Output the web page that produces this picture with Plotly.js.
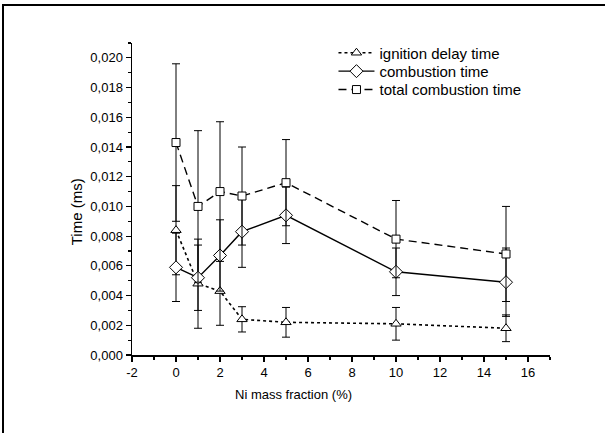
<!DOCTYPE html>
<html>
<head>
<meta charset="utf-8">
<script src="https://cdn.plot.ly/plotly-3.0.1.min.js"></script>
<style>
  html, body { margin: 0; padding: 0; background: #fff; }
  #wrap { position: relative; width: 605px; height: 433px; }
  #chart { position: absolute; left: 0; top: 0; width: 605px; height: 433px; }
  .frameTop { position: absolute; left: 2px; top: 4px; width: 603px; height: 2px; background: #000; z-index: 5; }
  .frameLeft { position: absolute; left: 2px; top: 4px; width: 2px; height: 429px; background: #000; z-index: 5; }
</style>
</head>
<body>
<div id="wrap">
  <div id="chart"></div>
  <div class="frameTop"></div>
  <div class="frameLeft"></div>
</div>
<script>
// Ni mass fraction (%)
const niFraction = [0, 1, 2, 3, 5, 10, 15];

// ignition delay time (ms) and its error
const ignitionDelay = [0.0084, 0.0048, 0.0043, 0.0024, 0.0022, 0.0021, 0.0018];
const ignitionDelayErr = [0.0030, 0.0030, 0.0023, 0.00085, 0.0010, 0.0011, 0.0009];

// combustion time (ms) and its error
const combustionTime = [0.0059, 0.0052, 0.0067, 0.0083, 0.0094, 0.0056, 0.0049];
const combustionTimeErr = [0.0023, 0.0022, 0.0024, 0.0024, 0.0019, 0.0016, 0.0023];

// total combustion time (ms) and its error
const totalTime = [0.0143, 0.0100, 0.0110, 0.0107, 0.0116, 0.0078, 0.0068];
const totalTimeErr = [0.0053, 0.0051, 0.0047, 0.0033, 0.0029, 0.0026, 0.0032];

const seriesNames = ["ignition delay time", "combustion time", "total combustion time"];
const xTickVals = [-2, 0, 2, 4, 6, 8, 10, 12, 14, 16];
const xTickLabels = ["-2", "0", "2", "4", "6", "8", "10", "12", "14", "16"];
const yTickVals = [0, 0.002, 0.004, 0.006, 0.008, 0.010, 0.012, 0.014, 0.016, 0.018, 0.020];

function errBar(arr) {
  return { type: 'data', array: arr, visible: true, color: '#000', thickness: 1, width: 4 };
}

const markerBase = { color: '#fff', line: { color: '#000', width: 1 } };

const traces = [
  {
    x: niFraction, y: ignitionDelay, name: seriesNames[0], legend: 'legend',
    mode: 'lines+markers', type: 'scatter',
    line: { color: '#000', width: 1.6, dash: 'dot' },
    marker: Object.assign({ symbol: 'triangle-up', size: 9 }, markerBase),
    error_y: errBar(ignitionDelayErr)
  },
  {
    x: niFraction, y: combustionTime, name: seriesNames[1], legend: 'legend2',
    mode: 'lines+markers', type: 'scatter',
    line: { color: '#000', width: 1.4 },
    marker: Object.assign({ symbol: 'diamond', size: 10 }, markerBase),
    error_y: errBar(combustionTimeErr)
  },
  {
    x: niFraction, y: totalTime, name: seriesNames[2], legend: 'legend3',
    mode: 'lines+markers', type: 'scatter',
    line: { color: '#000', width: 1.4, dash: '8px,5px' },
    marker: Object.assign({ symbol: 'square', size: 8 }, markerBase),
    error_y: errBar(totalTimeErr)
  }
];

const fontFam = '"Liberation Sans", Arial, sans-serif';

function legendAt(yPos) {
  return {
    x: 0.482, y: yPos, xanchor: 'left', yanchor: 'middle',
    bgcolor: 'rgba(0,0,0,0)', borderwidth: 0,
    font: { family: fontFam, size: 15, color: '#000' },
    tracegroupgap: 0, itemwidth: 36
  };
}

const layout = {
  width: 605, height: 433,
  margin: { l: 132, r: 55, t: 43, b: 78 },
  paper_bgcolor: '#fff', plot_bgcolor: '#fff',
  separators: ',.',
  font: { family: fontFam, size: 13, color: '#000' },
  showlegend: true,
  legend: legendAt(0.968),
  legend2: legendAt(0.909),
  legend3: legendAt(0.850),
  xaxis: {
    range: [-2, 17], showgrid: false, zeroline: false,
    showline: true, linecolor: '#000', linewidth: 1.5, mirror: false,
    ticks: 'outside', ticklen: 5, tickwidth: 1.2, tickcolor: '#000',
    tickvals: xTickVals, ticktext: xTickLabels, tickfont: { family: fontFam, size: 13, color: '#000' },
    minor: { dtick: 1, tick0: -1, ticks: 'outside', ticklen: 3, tickwidth: 1.2, tickcolor: '#000', showgrid: false },
    fixedrange: true
  },
  yaxis: {
    range: [0, 0.021], showgrid: false, zeroline: false,
    showline: true, linecolor: '#000', linewidth: 1.5, mirror: false,
    ticks: 'outside', ticklen: 5, tickwidth: 1.2, tickcolor: '#000',
    tickvals: yTickVals, tickformat: '.3f', tickfont: { family: fontFam, size: 13, color: '#000' },
    minor: { dtick: 0.001, tick0: 0, ticks: 'outside', ticklen: 3, tickwidth: 1.2, tickcolor: '#000', showgrid: false },
    fixedrange: true
  },
  annotations: [
    {
      text: 'Ni mass fraction (%)', xref: 'paper', yref: 'paper',
      x: 0.387, y: -0.128, xanchor: 'center', yanchor: 'middle',
      showarrow: false, font: { family: fontFam, size: 13, color: '#000' }
    },
    {
      text: 'Time (ms)', xref: 'paper', yref: 'paper',
      x: -0.132, y: 0.46, xanchor: 'center', yanchor: 'middle', textangle: -90,
      showarrow: false, font: { family: fontFam, size: 15, color: '#000' }
    }
  ]
};

Plotly.newPlot('chart', traces, layout, { staticPlot: true, displayModeBar: false });
</script>
</body>
</html>
